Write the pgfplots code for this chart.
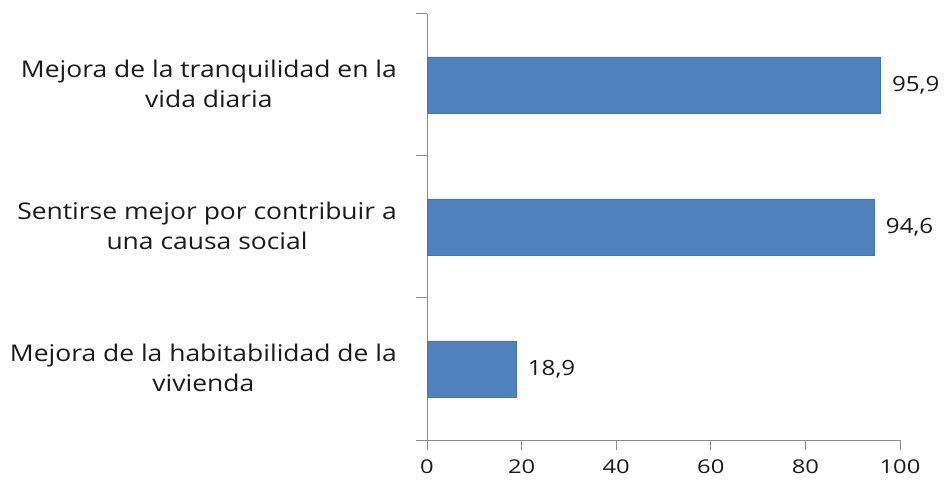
\documentclass[border=0pt]{standalone}
\usepackage{pgfplots}
\pgfplotsset{compat=1.18}
\usepackage{fontspec}
\setmainfont{Open Sans}
\newfontfamily\lblfont[FakeStretch=1.15]{Open Sans}
\newfontfamily\tickfont[FakeStretch=1.25]{Open Sans}
\definecolor{barblue}{HTML}{4F81BD}
\definecolor{axgray}{HTML}{8C8C8C}
\definecolor{txt}{HTML}{1A1A1A}
\begin{document}
\begin{tikzpicture}[x=1pt,y=1pt]
\useasboundingbox (0,0) rectangle (944,479);
\begin{axis}[
  at={(427pt,39pt)}, anchor=south west,
  scale only axis, width=473pt, height=426pt,
  xmin=0, xmax=100, ymin=-0.5, ymax=2.5,
  xbar, bar width=56pt,
  axis lines*=left,
  axis line style={axgray, line width=1pt},
  every tick/.style={axgray, line width=1pt},
  xtick={0,20,...,100},
  tick align=outside,
  major tick length=10pt,
  ytick={0,1,2},
  yticklabels={{Mejora de la habitabilidad de la\\vivienda},{Sentirse mejor por contribuir a\\una causa social},{Mejora de la tranquilidad en la\\vida diaria}},
  minor ytick={-0.5,0.5,1.5,2.5},
  ytick style={draw=none},
  minor y tick style={draw=axgray, line width=1pt},
  minor tick length=11pt,
  yticklabel style={align=center, font=\lblfont\fontsize{23}{30}\selectfont, text=txt, xshift=-20pt, yshift=1pt, inner sep=0pt},
  xticklabel style={font=\tickfont\fontsize{19}{20}\selectfont, text=txt, yshift=-6pt},
  /pgf/number format/assume math mode=true,
  nodes near coords,
  nodes near coords style={font=\lblfont\fontsize{21}{24}\selectfont, text=txt, xshift=8pt, /pgf/number format/.cd, fixed, fixed zerofill, precision=1, use comma, assume math mode=true},
  point meta=x,
  clip=false,
]
\addplot[fill=barblue, draw=barblue!90!black, line width=0.3pt] coordinates {(18.9,0) (94.6,1) (95.9,2)};
\end{axis}
\end{tikzpicture}
\end{document}
